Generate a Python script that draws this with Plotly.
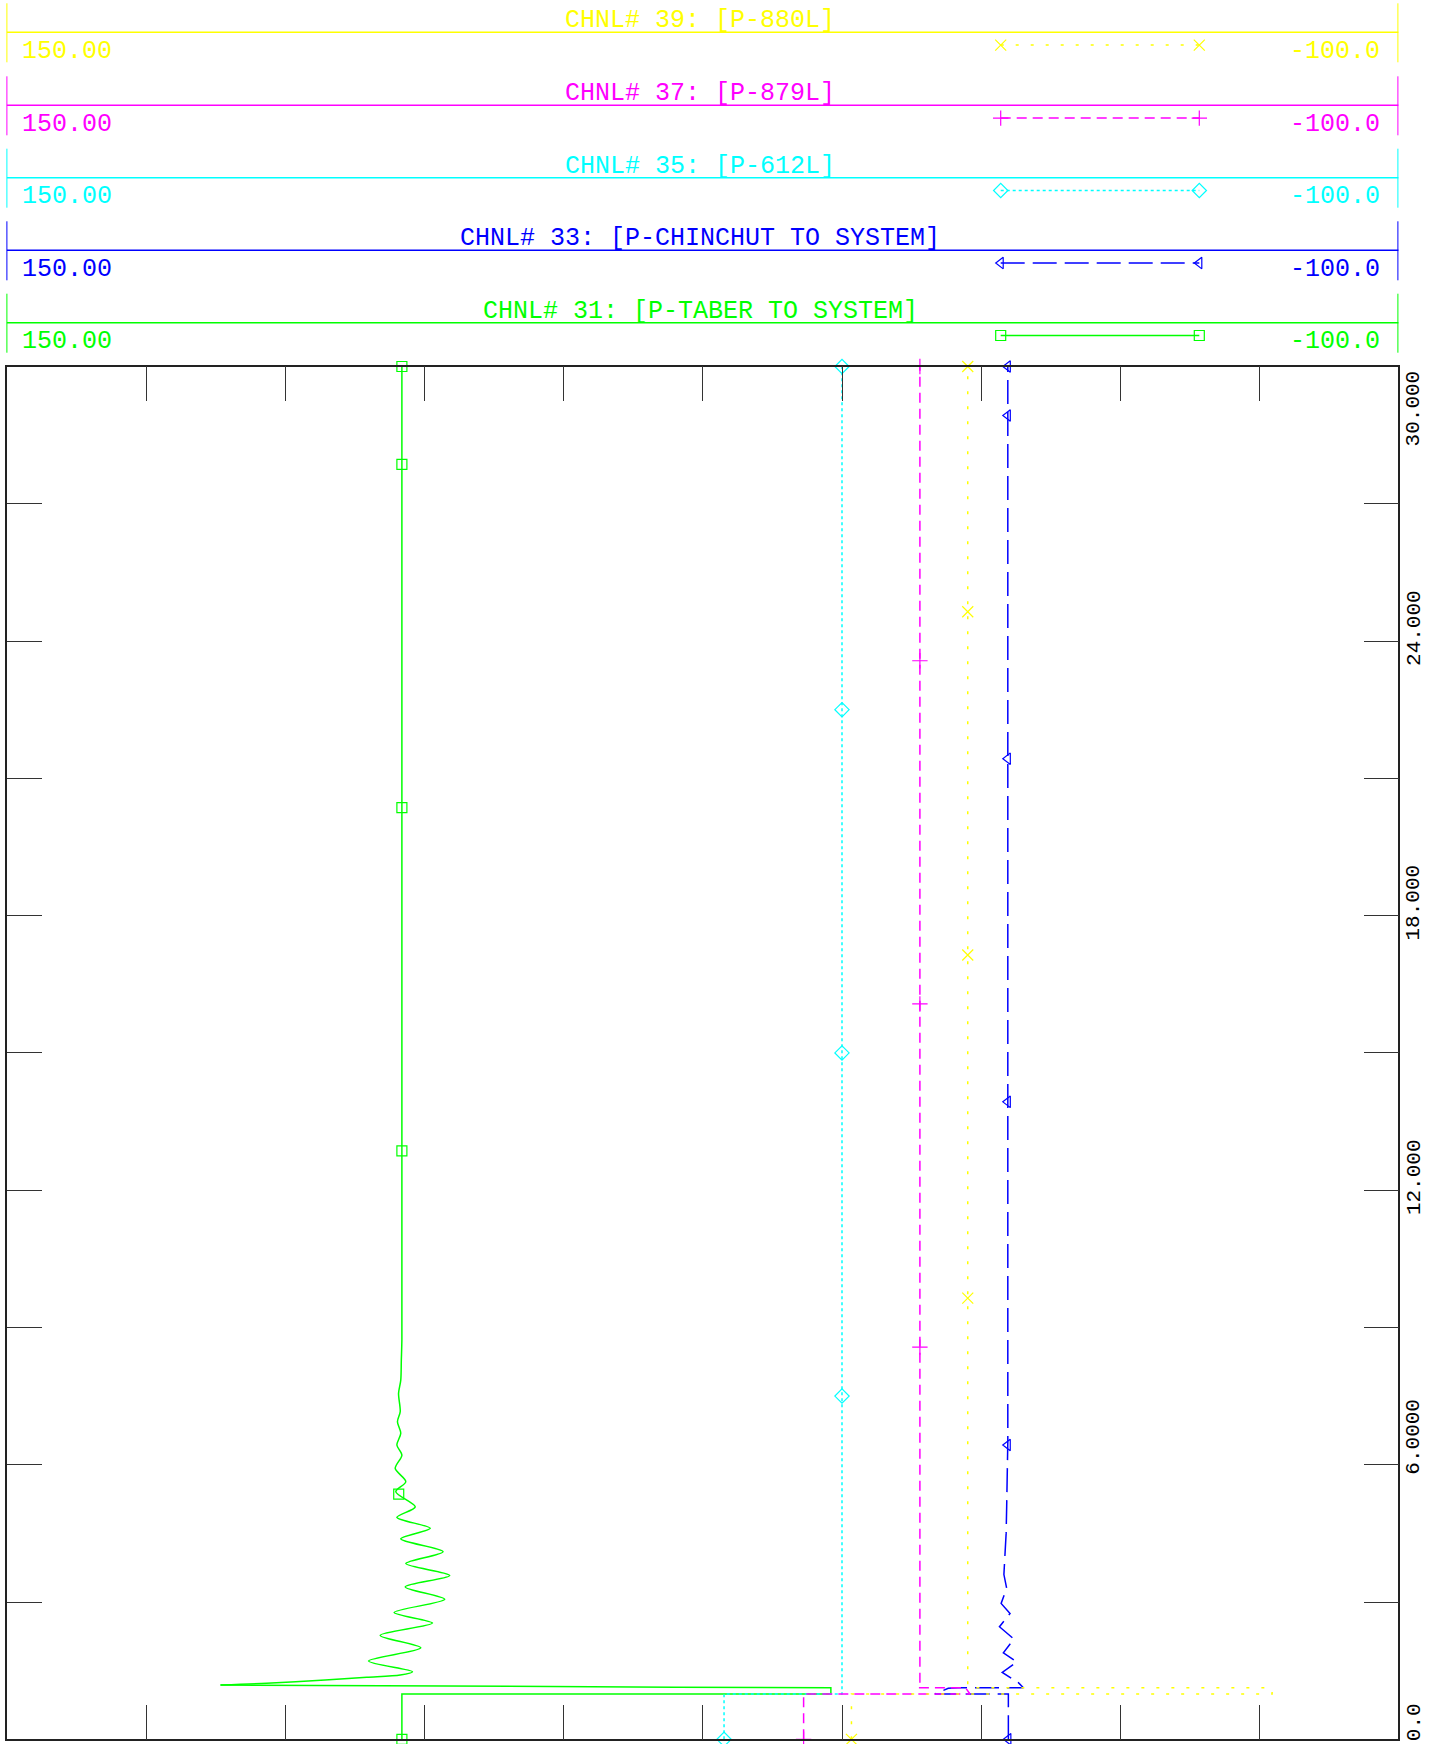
import numpy as np
import plotly.graph_objects as go

W, H = 1430, 1744

# ---------------- data ----------------
channel_ids = [31, 33, 35, 37, 39]
channel_names = ["P-TABER TO SYSTEM", "P-CHINCHUT TO SYSTEM", "P-612L", "P-879L", "P-880L"]
channel_colors = ["#00ff00", "#0000ff", "#00ffff", "#ff00ff", "#ffff00"]

value_left, value_right = 150.0, -100.0
value_left_label, value_right_label = "150.00", "-100.0"
value_dtick = 25
time_range = [0.0, 30.0]
time_dtick = 3
time_ticks = [0, 6, 12, 18, 24, 30]
time_tick_labels = ["0.0", "6.0000", "12.000", "18.000", "24.000", "30.000"]

# CHNL 31 (green)
t31 = [0.0, 0.99, 0.99, 1.128, 1.14, 1.187,
       1.224, 1.296, 1.355, 1.405, 1.477, 1.711, 2.00, 2.27, 2.54, 2.77, 3.06, 3.33,
       3.58, 3.84, 4.10, 4.38, 4.61, 4.85, 5.08, 5.41, 5.63, 5.92, 6.21, 6.43, 6.69,
       6.94, 7.16, 7.56, 7.85, 8.29, 8.73, 30.0]
v31 = [79.1, 79.1, 2.0, 2.0, 30.0, 111.7,
       103.4, 92.9, 85.4, 79.4, 77.2, 85.1, 75.7, 83.0, 73.6, 80.5, 71.4, 78.5,
       70.5, 78.4, 71.7, 79.3, 74.0, 80.0, 76.7, 80.2, 78.4, 80.3, 79.1, 80.0, 79.3,
       79.9, 79.4, 79.7, 79.3, 79.2, 79.1, 79.1]
# CHNL 33 (blue)
t33 = [0.0, 0.99, 0.99, 1.114, 1.128, 1.128, 1.237, 1.46, 1.69, 1.89, 2.19, 2.46,
       2.75, 2.97, 3.30, 3.60, 4.06, 4.50, 5.10, 5.80, 6.50, 30.0]
v33 = [-29.9, -29.9, -16.7, -19.1, -20.9, -32.6, -31.7, -28.8, -31.4, -29.0, -30.9, -28.3,
       -30.2, -28.6, -29.6, -29.1, -29.3, -29.5, -29.6, -29.7, -29.8, -29.8]
# CHNL 35 (cyan)
t35 = [0.0, 0.99, 0.99, 30.0]
v35 = [21.2, 21.2, 0.0, 0.0]
# CHNL 37 (magenta)
t37 = [0.0, 0.99, 0.99, 1.128, 1.128, 1.20, 30.0]
v37 = [6.9, 6.9, -23.0, -22.2, -13.7, -14.0, -14.0]
# CHNL 39 (yellow)
t39 = [0.0, 0.99, 0.99, 1.128, 1.128, 30.0]
v39 = [-1.7, -1.7, -77.3, -77.3, -22.6, -22.6]

# marker times along each curve
mk31 = [0.0, 5.36, 12.86, 20.36, 27.86, 30.0]
mk33 = [0.0, 6.43, 13.93, 21.43, 28.93, 30.0]
mk35 = [0.0, 7.5, 15.0, 22.5, 30.0]
mk37 = [0.0, 8.57, 16.07, 23.57, 30.0]
mk39 = [0.0, 9.64, 17.14, 24.64, 30.0]

series_t = [t31, t33, t35, t37, t39]
series_v = [v31, v33, v35, v37, v39]
series_mk = [mk31, mk33, mk35, mk37, mk39]

# ---------------- styles ----------------
dashes = ["solid", "24px,8px", "3px,3px", "10px,6px", "3px,12px"]
symbols = ["square-open", "triangle-left-open", "diamond-open", "cross-thin-open", "x-thin-open"]
msizes = [10, 10, 11, 11, 11]
spline_from = [5, None, None, None, None]   # green oscillation drawn smooth
FONT = "Liberation Mono"

PL, PR, PT, PB = 7.4, 1398.4, 366.5, 1739.3   # plot area in pixels
HEADER_BOTTOM = 356.0
panel_line_y = {39: 32.3, 37: 105.3, 35: 177.7, 33: 250.3, 31: 322.7}
legend_x = [1000.7, 1199.3]


def px(x):
    return x / W


def py(y):
    return 1 - y / H


fig = go.Figure()

for i, cid in enumerate(channel_ids):
    t = np.array(series_t[i], dtype=float)
    v = np.array(series_v[i], dtype=float)
    col = channel_colors[i]
    sf = spline_from[i]
    if sf is None:
        parts = [(t, v, "linear")]
    else:
        parts = [(t[:sf + 1], v[:sf + 1], "linear"), (t[sf:], v[sf:], "spline")]
    for tt, vv, shp in parts:
        fig.add_trace(go.Scatter(
            x=vv, y=tt, mode="lines", xaxis="x", yaxis="y",
            line=dict(color=col, width=1.5, dash=dashes[i], shape=shp, smoothing=0.8),
            showlegend=False, hoverinfo="skip"))
    mt = np.array(series_mk[i], dtype=float)
    mv = np.interp(mt, t, v)
    fig.add_trace(go.Scatter(
        x=mv, y=mt, mode="markers", xaxis="x", yaxis="y", cliponaxis=False,
        marker=dict(symbol=symbols[i], size=msizes[i], color=col,
                    line=dict(color=col, width=1.2)),
        showlegend=False, hoverinfo="skip"))

    # header legend sample
    ly = panel_line_y[cid] + 12.8
    fig.add_trace(go.Scatter(
        x=legend_x, y=[ly, ly], mode="lines+markers", xaxis="x2", yaxis="y2",
        cliponaxis=False,
        line=dict(color=col, width=1.5, dash=dashes[i]),
        marker=dict(symbol=symbols[i], size=msizes[i], color=col,
                    line=dict(color=col, width=1.2)),
        showlegend=False, hoverinfo="skip"))

shapes = []
annotations = []
for i, cid in enumerate(channel_ids):
    col = channel_colors[i]
    ly = panel_line_y[cid]
    shapes.append(dict(type="line", xref="paper", yref="paper",
                       x0=px(PL - 0.5), x1=px(PR), y0=py(ly), y1=py(ly),
                       line=dict(color=col, width=1.5)))
    for xx in (PL - 0.5, PR - 0.5):
        shapes.append(dict(type="line", xref="paper", yref="paper",
                           x0=px(xx), x1=px(xx), y0=py(max(ly - 29, 0)), y1=py(ly + 30),
                           line=dict(color=col, width=1)))
    annotations.append(dict(
        text=f"CHNL# {cid}: [{channel_names[i]}]", xref="paper", yref="paper",
        x=px(700), y=py(ly - 11.5), xanchor="center", yanchor="middle", showarrow=False,
        font=dict(family=FONT, size=25, color=col)))
    annotations.append(dict(
        text=value_left_label, xref="paper", yref="paper",
        x=px(20), y=py(ly + 19), xanchor="left", yanchor="middle", showarrow=False,
        font=dict(family=FONT, size=25, color=col)))
    annotations.append(dict(
        text=value_right_label, xref="paper", yref="paper",
        x=px(1382), y=py(ly + 19), xanchor="right", yanchor="middle", showarrow=False,
        font=dict(family=FONT, size=25, color=col)))

label_anchor = ["bottom", "bottom", "bottom", "bottom", "bottom", "top"]
label_shift = [-4, -12, -27, -27, -27, -2]
for k, (tv, lab) in enumerate(zip(time_ticks, time_tick_labels)):
    annotations.append(dict(
        text=lab, xref="paper", yref="y", x=px(PR), y=tv, xanchor="left",
        yanchor=label_anchor[k], yshift=label_shift[k], xshift=2, textangle=-90,
        showarrow=False, font=dict(family=FONT, size=21, color="#000000")))

axis_common = dict(showgrid=False, zeroline=False, showticklabels=False,
                   ticks="inside", ticklen=35, tickwidth=1.2, tickcolor="#333333",
                   showline=True, linecolor="#222222", linewidth=1.5, mirror="ticks")

fig.update_layout(
    width=W, height=H,
    margin=dict(l=0, r=0, t=0, b=0, pad=0, autoexpand=False),
    paper_bgcolor="white", plot_bgcolor="rgba(0,0,0,0)",
    showlegend=False,
    xaxis=dict(domain=[px(PL), px(PR)], range=[value_left, value_right],
               dtick=value_dtick, tick0=0, anchor="y", **axis_common),
    yaxis=dict(domain=[py(PB), py(PT)], range=time_range, dtick=time_dtick, tick0=0,
               anchor="x", **axis_common),
    xaxis2=dict(domain=[0, 1], range=[0, W], visible=False, anchor="y2"),
    yaxis2=dict(domain=[py(HEADER_BOTTOM), 1], range=[HEADER_BOTTOM, 0], visible=False,
                anchor="x2"),
    shapes=shapes, annotations=annotations,
)

fig.write_html(
    "out.html",
    config={"displayModeBar": False},
    post_script="document.body.style.margin='0';document.body.style.padding='0';"
                "document.body.style.overflow='hidden';",
)
